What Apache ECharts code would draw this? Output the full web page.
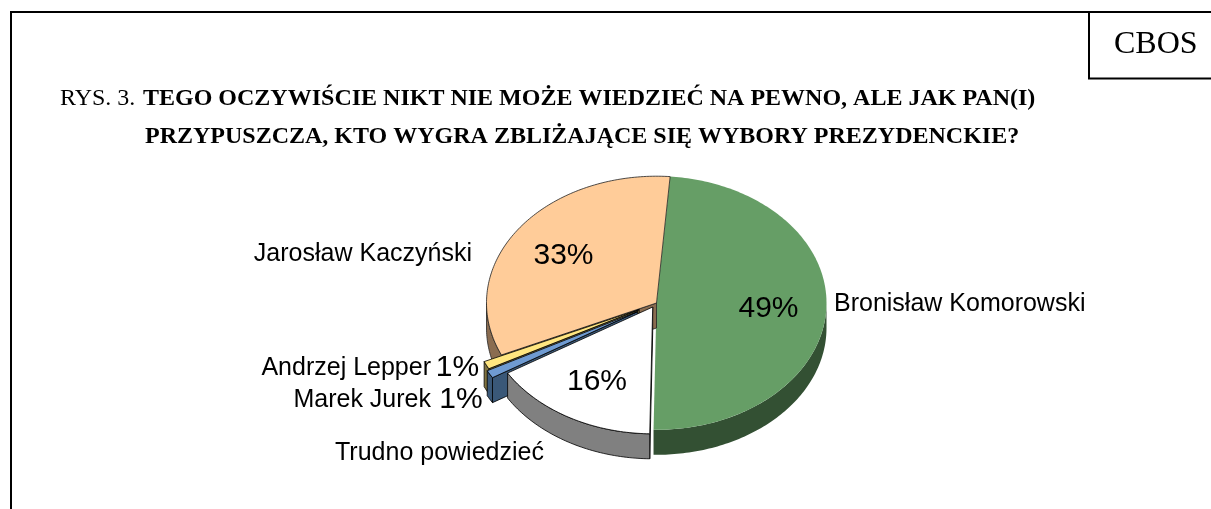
<!DOCTYPE html>
<html><head><meta charset="utf-8">
<style>html,body{margin:0;padding:0;background:#fff}#c{width:1211px;height:509px}</style>
<script src="https://cdn.jsdelivr.net/npm/echarts@6/dist/echarts.min.js"></script>
</head><body><div id="c"></div>
<script>
// Data, clockwise from the top of the pie
const categories = ['Bronisław Komorowski', 'Trudno powiedzieć', 'Marek Jurek', 'Andrzej Lepper', 'Jarosław Kaczyński'];
const values = [49, 16, 1, 1, 33];
const titlePrefix = 'RYS. 3.';
const titleLine1 = 'TEGO OCZYWIŚCIE NIKT NIE MOŻE WIEDZIEĆ NA PEWNO, ALE JAK PAN(I)';
const titleLine2 = 'PRZYPUSZCZA, KTO WYGRA ZBLIŻAJĄCE SIĘ WYBORY PREZYDENCKIE?';
const sourceLabel = 'CBOS';

// Style and layout, kept apart from the data
const topColors = ['#669E66', '#FFFFFF', '#6F9BD2', '#FFE680', '#FFCC99'];
const sideColors = ['#335033', '#808080', '#3A5878', '#807340', '#8A6C50'];
const strokes = [null, '#000', '#000', '#000', '#222'];
const drawRank = [1, 5, 4, 3, 2];
const centers = [[656.5, 303], [652.7, 307], [637.6, 311.6], [639.2, 309.6], [656.5, 303]];
const RX = 170, RY = 126.8, DEPTH = 25, START_DEG = 4.6;
const nameLayout = [
  {x: 834, y: 304, align: 'left'}, {x: 335, y: 453, align: 'left'},
  {x: 431, y: 400, align: 'right'}, {x: 431, y: 368, align: 'right'}, {x: 472, y: 254, align: 'right'}
];
const pctLayout = [
  {x: 768.5, y: 309, align: 'center'}, {x: 597, y: 382, align: 'center'},
  {x: 461, y: 400, align: 'center'}, {x: 457.5, y: 368, align: 'center'}, {x: 563.5, y: 256, align: 'center'}
];
const SANS = '"Liberation Sans", Arial, sans-serif';
const SERIF = '"Liberation Serif", "Times New Roman", serif';

const total = values.reduce((a, b) => a + b, 0);
const starts = [];
values.reduce((acc, v, i) => { starts[i] = acc; return acc + v / total * 360; }, START_DEG);

function pt(c, deg, dz) {
  const r = deg * Math.PI / 180;
  return [c[0] + RX * Math.sin(r), c[1] - RY * Math.cos(r) + (dz || 0)];
}
function arc(c, a, b, dz) {
  const out = [], n = Math.max(2, Math.ceil(Math.abs(b - a)));
  for (let k = 0; k <= n; k++) out.push(pt(c, a + (b - a) * k / n, dz));
  return out;
}
function poly(points, fill, stroke, z2, w) {
  return {type: 'polygon', z2, shape: {points},
    style: {fill, stroke: stroke || null, lineWidth: stroke ? (w || 0.8) : 0, lineJoin: 'round'}};
}
function renderSlice(params, api) {
  const i = api.value(0), v = api.value(1);
  const a = starts[i], b = a + v / total * 360, c = centers[i];
  const z = drawRank[i] * 10, kids = [];
  const stroke = strokes[i];
  // radial wall on the start edge, when it faces the viewer
  if (a > 90 && a < 270) {
    const t = pt(c, a);
    kids.push(poly([c, t, [t[0], t[1] + DEPTH], [c[0], c[1] + DEPTH]], sideColors[i], stroke, z));
  }
  // outer rim: only the near half of the ellipse
  const lo = Math.max(a, 90), hi = Math.min(b, 270);
  if (hi > lo) {
    const rim = arc(c, lo, hi, 0).concat(arc(c, hi, lo, DEPTH));
    kids.push(poly(rim, sideColors[i], stroke, z + 1));
  }
  // top face
  kids.push(poly([c].concat(arc(c, a, b, 0)), topColors[i], stroke, z + 2));
  const nl = nameLayout[i], pl = pctLayout[i];
  kids.push({type: 'text', z2: 200, style: {text: categories[i], x: nl.x, y: nl.y, align: nl.align,
    verticalAlign: 'middle', font: '25px ' + SANS, fill: '#000'}});
  kids.push({type: 'text', z2: 200, style: {text: v + '%', x: pl.x, y: pl.y, align: pl.align,
    verticalAlign: 'middle', font: '30px ' + SANS, fill: '#000'}});
  return {type: 'group', children: kids};
}
function line(x1, y1, x2, y2) {
  return {type: 'line', shape: {x1, y1, x2, y2}, style: {stroke: '#000', lineWidth: 2}};
}
function label(text, x, y, font) {
  return {type: 'text', style: {text, x, y, font, fill: '#000', verticalAlign: 'middle'}};
}
const chart = echarts.init(document.getElementById('c'), null, {renderer: 'canvas'});
chart.setOption({
  animation: false,
  backgroundColor: '#fff',
  graphic: {elements: [
    line(11, 12, 1211, 12), line(11, 11, 11, 509),
    line(1089, 12, 1089, 79), line(1088, 78.5, 1211, 78.5),
    label(sourceLabel, 1114, 45, '32px ' + SERIF),
    label(titlePrefix, 60, 99, '24px ' + SERIF),
    label(titleLine1, 143, 99, 'bold 24px ' + SERIF),
    label(titleLine2, 145, 137, 'bold 24px ' + SERIF)
  ]},
  series: [{
    type: 'custom', coordinateSystem: 'none', silent: true,
    renderItem: renderSlice,
    data: values.map((v, i) => [i, v])
  }]
});
</script></body></html>
